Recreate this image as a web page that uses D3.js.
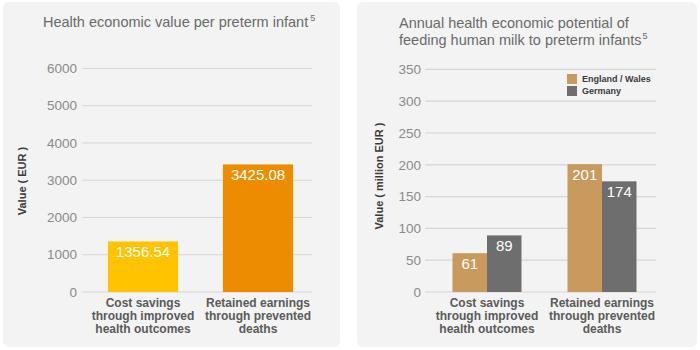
<!DOCTYPE html>
<html>
<head>
<meta charset="utf-8">
<script src="https://cdn.jsdelivr.net/npm/d3@7"></script>
<style>
    body { margin: 0; background: #fff; }
    svg { display: block; font-family: "Liberation Sans", Arial, sans-serif; }
</style>
</head>
<body>
<svg id="chart" width="700" height="350"></svg>
<script>
// left chart data
const leftCategories = [["Cost savings", "through improved", "health outcomes"], ["Retained earnings", "through prevented", "deaths"]];
const leftValues = [1356.54, 3425.08];
const leftLabels = ["1356.54", "3425.08"];
const leftColors = ["#ffc300", "#ee8c00"];
const leftTicks = [0, 1000, 2000, 3000, 4000, 5000, 6000];

// right chart data
const rightCategories = [["Cost savings", "through improved", "health outcomes"], ["Retained earnings", "through prevented", "deaths"]];
const rightSeries = ["England / Wales", "Germany"];
const englandWales = [61, 201];
const germany = [89, 174];
const rightColors = ["#c89a5e", "#6e6e6e"];
const rightTicks = [0, 50, 100, 150, 200, 250, 300, 350];

const svg = d3.select('#chart');

// panels
const panels = [[3, 337], [357, 340]];
panels.forEach(p => {
    svg.append('rect')
        .attr('x', p[0]).attr('y', 2)
        .attr('width', p[1]).attr('height', 345)
        .attr('rx', 6)
        .attr('fill', '#f3f3f3');
});

function drawAxis(g, y, ticks, x0, x1, labelX) {
    g.append('g')
        .selectAll('line')
        .data(ticks)
        .join('line')
            .attr('x1', x0).attr('x2', x1)
            .attr('y1', d => y(d)).attr('y2', d => y(d))
            .attr('stroke', '#d6d6d6')
            .attr('stroke-width', 1.2);

    g.append('g')
        .selectAll('text')
        .data(ticks)
        .join('text')
            .attr('x', labelX)
            .attr('y', d => y(d))
            .attr('dy', '0.35em')
            .attr('text-anchor', 'end')
            .attr('font-size', 13.5)
            .attr('fill', '#8a8a8a')
            .text(d => d);
}

function drawCategories(g, x, cats) {
    cats.forEach((lines, i) => {
        const t = g.append('text')
            .attr('x', x(i) + x.bandwidth() / 2)
            .attr('y', 307)
            .attr('text-anchor', 'middle')
            .attr('font-size', 12)
            .attr('font-weight', 'bold')
            .attr('fill', '#5a5a5a');
        lines.forEach((l, j) => {
            t.append('tspan')
                .attr('x', x(i) + x.bandwidth() / 2)
                .attr('dy', j === 0 ? 0 : 13)
                .text(l);
        });
    });
}

function yTitle(g, x, cy, text) {
    g.append('text')
        .attr('transform', `translate(${x}, ${cy}) rotate(-90)`)
        .attr('text-anchor', 'middle')
        .attr('font-size', 11)
        .attr('font-weight', 'bold')
        .attr('fill', '#3a3a3a')
        .text(text);
}

// ---- left chart
const left = svg.append('g');

const yL = d3.scaleLinear().domain([0, 6000]).range([292, 68.5]);
const xL = d3.scaleBand().domain(d3.range(leftValues.length)).range([85.5, 315.5]).paddingInner(0.39).paddingOuter(0.195);

left.append('text')
    .attr('x', 43).attr('y', 27)
    .attr('font-size', 14.5)
    .attr('fill', '#6a6a6a')
    .text('Health economic value per preterm infant')
    .append('tspan')
        .attr('dy', -6).attr('dx', 2)
        .attr('font-size', 9)
        .text('5');

drawAxis(left, yL, leftTicks, 82, 312, 77);
yTitle(left, 26, 181, 'Value ( EUR )');

left.append('g')
    .selectAll('rect')
    .data(leftValues)
    .join('rect')
        .attr('x', (d, i) => xL(i))
        .attr('y', d => yL(d))
        .attr('width', xL.bandwidth())
        .attr('height', d => yL(0) - yL(d))
        .attr('fill', (d, i) => leftColors[i]);

left.append('g')
    .selectAll('text')
    .data(leftValues)
    .join('text')
        .attr('x', (d, i) => xL(i) + xL.bandwidth() / 2)
        .attr('y', d => yL(d) + 16)
        .attr('text-anchor', 'middle')
        .attr('font-size', 15)
        .attr('fill', '#fff')
        .text((d, i) => leftLabels[i]);

drawCategories(left, xL, leftCategories);

// ---- right chart
const right = svg.append('g');

const yR = d3.scaleLinear().domain([0, 350]).range([292, 69.4]);
const xR = d3.scaleBand().domain(d3.range(rightCategories.length)).range([429.5, 659.5]).paddingInner(0.4).paddingOuter(0.2);
const xSub = d3.scaleBand().domain(rightSeries).range([0, xR.bandwidth()]);

right.append('text')
    .attr('x', 399).attr('y', 28)
    .attr('font-size', 14.5)
    .attr('fill', '#6a6a6a')
    .text('Annual health economic potential of');
right.append('text')
    .attr('x', 399).attr('y', 45)
    .attr('font-size', 14.5)
    .attr('fill', '#6a6a6a')
    .text('feeding human milk to preterm infants')
    .append('tspan')
        .attr('dy', -6).attr('dx', 1)
        .attr('font-size', 9)
        .text('5');

drawAxis(right, yR, rightTicks, 425, 656, 421);
yTitle(right, 383, 176, 'Value ( million EUR )');

const seriesData = [englandWales, germany];
seriesData.forEach((vals, s) => {
    const grp = right.append('g');
    grp.selectAll('rect')
        .data(vals)
        .join('rect')
            .attr('x', (d, i) => xR(i) + xSub(rightSeries[s]))
            .attr('y', d => yR(d))
            .attr('width', xSub.bandwidth())
            .attr('height', d => yR(0) - yR(d))
            .attr('fill', rightColors[s]);
    grp.selectAll('text')
        .data(vals)
        .join('text')
            .attr('x', (d, i) => xR(i) + xSub(rightSeries[s]) + xSub.bandwidth() / 2)
            .attr('y', d => yR(d) + 16)
            .attr('text-anchor', 'middle')
            .attr('font-size', 15)
            .attr('fill', '#fff')
            .text(d => d);
});

drawCategories(right, xR, rightCategories);

// legend
const legend = right.append('g').attr('transform', 'translate(567, 74)');
rightSeries.forEach((s, i) => {
    legend.append('rect')
        .attr('x', 0).attr('y', i * 12)
        .attr('width', 10).attr('height', 10)
        .attr('fill', rightColors[i]);
    legend.append('text')
        .attr('x', 15).attr('y', i * 12 + 8)
        .attr('font-size', 9)
        .attr('font-weight', 'bold')
        .attr('fill', '#3a3a3a')
        .text(s);
});
</script>
</body>
</html>
